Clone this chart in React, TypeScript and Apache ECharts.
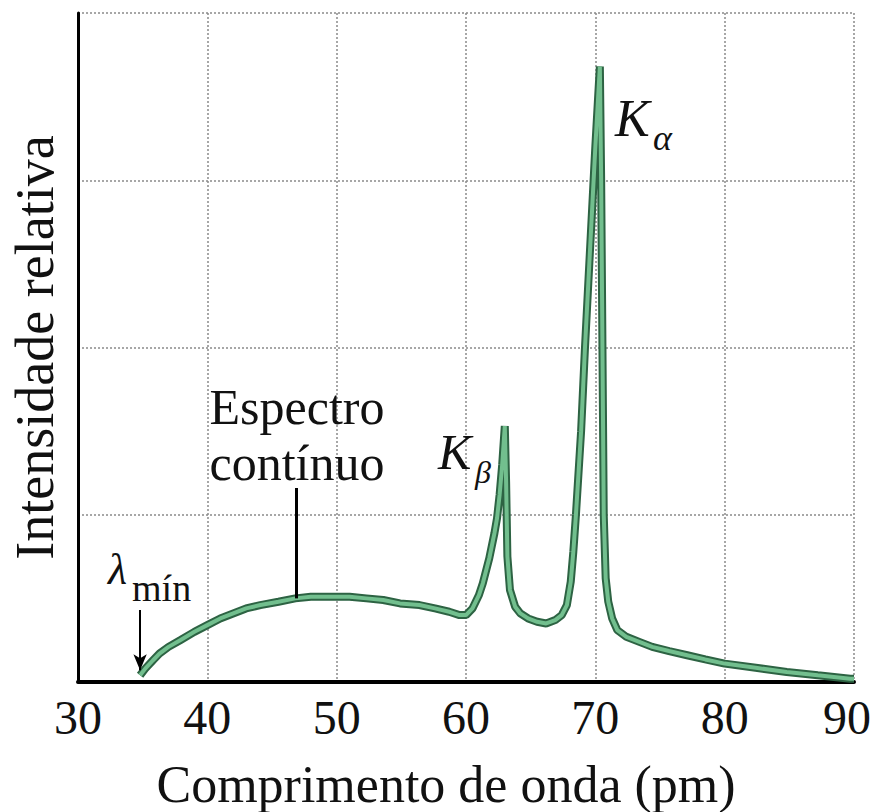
import React, { useEffect, useRef } from "react";
import * as echarts from "echarts";

const wavelengths = [
  34.8, 35.2, 35.8, 36.3, 37.0, 37.9, 39.0, 40.0, 41.0, 42.0, 43.0, 44.1, 45.5, 46.8, 48.0, 49.7,
  51.0, 52.3, 53.6, 54.9, 56.4, 57.6, 58.7, 59.5, 60.0, 60.5, 61.0, 61.3, 61.8, 62.2, 62.4, 62.6,
  62.8, 63.0, 63.1, 63.2, 63.4, 63.8, 64.2, 64.8, 65.5, 66.2, 66.9, 67.4, 67.8, 68.1, 68.3, 68.5,
  68.9, 69.2, 69.6, 70.0, 70.35, 70.45, 70.55, 70.65, 70.8, 71.0, 71.3, 71.7, 72.4, 73.4, 74.4,
  75.7, 77.1, 78.5, 80.0, 82.4, 84.8, 87.2, 89.7, 90.0,
];
const intensities = [
  0.04, 0.08, 0.13, 0.17, 0.21, 0.25, 0.3, 0.34, 0.38, 0.41, 0.44, 0.46, 0.48, 0.5, 0.51, 0.51,
  0.51, 0.5, 0.49, 0.47, 0.46, 0.44, 0.42, 0.4, 0.4, 0.44, 0.52, 0.59, 0.74, 0.89, 0.98, 1.12,
  1.3, 1.53, 1.2, 0.75, 0.55, 0.45, 0.41, 0.38, 0.36, 0.35, 0.37, 0.4, 0.46, 0.6, 0.78, 1.0,
  1.5, 2.0, 2.6, 3.2, 3.68, 3.0, 2.0, 1.0, 0.62, 0.48, 0.38, 0.31, 0.27, 0.24, 0.21,
  0.185, 0.16, 0.135, 0.11, 0.085, 0.06, 0.04, 0.02, 0.02,
];
const xTicks = { min: 30, max: 90, step: 10 };
const yTicks = { min: 0, max: 4, step: 1 };
const xTitle = "Comprimento de onda (pm)";
const yTitle = "Intensidade relativa";
const continuumLabel = ["Espectro", "contínuo"];
const continuumPointer = [[46.85, 0.5], [46.85, 1.16]];
const lambdaPointer = [[34.8, 0.43], [34.8, 0.07]];

const FONT = "Liberation Serif";
const INK = "#111111";

export default function App() {
  const ref = useRef<HTMLDivElement>(null);
  useEffect(() => {
    if (!ref.current) return;
    const chart = echarts.init(ref.current, null, { renderer: "svg" });
    const curve = wavelengths.map((w, i) => [w, intensities[i]]);
    const txt = (value: number[], text: string, size: number, opts: any = {}) => ({
      value,
      label: {
        show: true,
        position: "inside",
        formatter: text,
        fontFamily: FONT,
        fontSize: size,
        color: INK,
        opacity: 1,
        textBorderWidth: 0,
        align: opts.align || "left",
        verticalAlign: "middle",
        fontStyle: opts.italic ? "italic" : "normal",
      },
    });
    chart.setOption({
      animation: false,
      backgroundColor: "#ffffff",
      grid: { left: 78, right: 18, top: 13, bottom: 130, outerBoundsMode: "none", containLabel: false },
      xAxis: {
        type: "value",
        min: xTicks.min,
        max: xTicks.max,
        interval: xTicks.step,
        name: xTitle,
        nameLocation: "middle",
        nameGap: 76,
        nameTextStyle: { fontFamily: FONT, fontSize: 52, color: INK, padding: [0, 40, 0, 0] },
        axisLine: { show: true, lineStyle: { color: "#000", width: 4 } },
        axisTick: { show: false },
        axisLabel: {
          fontFamily: FONT,
          fontSize: 48,
          color: INK,
          margin: 11,
          formatter: (v: number) => (v === xTicks.max ? `{last|${v}}` : `${v}`),
          rich: {
            last: { fontFamily: FONT, fontSize: 48, color: INK, padding: [0, 14, 0, 0] },
          },
        },
        splitLine: { show: true, lineStyle: { color: "#8a8a8a", type: [2, 2], width: 1.5 } },
      },
      yAxis: {
        type: "value",
        min: yTicks.min,
        max: yTicks.max,
        interval: yTicks.step,
        name: yTitle,
        nameLocation: "middle",
        nameGap: 16,
        nameTextStyle: { fontFamily: FONT, fontSize: 54, color: INK },
        axisLine: { show: true, lineStyle: { color: "#000", width: 3 } },
        axisTick: { show: false },
        axisLabel: { show: false },
        splitLine: { show: true, lineStyle: { color: "#8a8a8a", type: [2, 2], width: 1.5 } },
      },
      series: [
        {
          type: "line",
          data: curve,
          symbol: "none",
          lineStyle: { color: "#2d6343", width: 8 },
          silent: true,
          z: 3,
          markLine: {
            silent: true,
            symbol: ["none", "none"],
            label: { show: false },
            lineStyle: { color: "#000", width: 3, type: "solid" },
            data: [[{ coord: continuumPointer[0] }, { coord: continuumPointer[1] }]],
          },
        },
        {
          type: "line",
          data: curve,
          symbol: "none",
          lineStyle: { color: "#72bf8e", width: 4 },
          silent: true,
          z: 4,
          markLine: {
            silent: true,
            symbol: ["none", "arrow"],
            symbolSize: [10, 16],
            label: { show: false },
            lineStyle: { color: "#000", width: 2, type: "solid" },
            itemStyle: { color: "#000" },
            data: [[{ coord: lambdaPointer[0] }, { coord: lambdaPointer[1] }]],
          },
        },
        {
          type: "scatter",
          symbolSize: 0,
          itemStyle: { color: "#000" },
          silent: true,
          z: 5,
          data: [
            txt([71.52, 3.37], "K", 52, { italic: true }),
            txt([74.45, 3.25], "α", 36, { italic: true }),
            txt([57.84, 1.375], "K", 50, { italic: true }),
            txt([60.7, 1.256], "β", 32, { italic: true }),
            txt([46.93, 1.644], continuumLabel[0], 50, { align: "center" }),
            txt([46.93, 1.309], continuumLabel[1], 50, { align: "center" }),
            txt([32.32, 0.67], "λ", 44, { italic: true }),
            txt([34.18, 0.562], "mín", 38),
          ],
        },
      ],
    });
    return () => chart.dispose();
  }, []);
  return (
    <div
      ref={ref}
      style={{ position: "fixed", left: 0, top: 0, width: 872, height: 812, background: "#fff" }}
    />
  );
}
